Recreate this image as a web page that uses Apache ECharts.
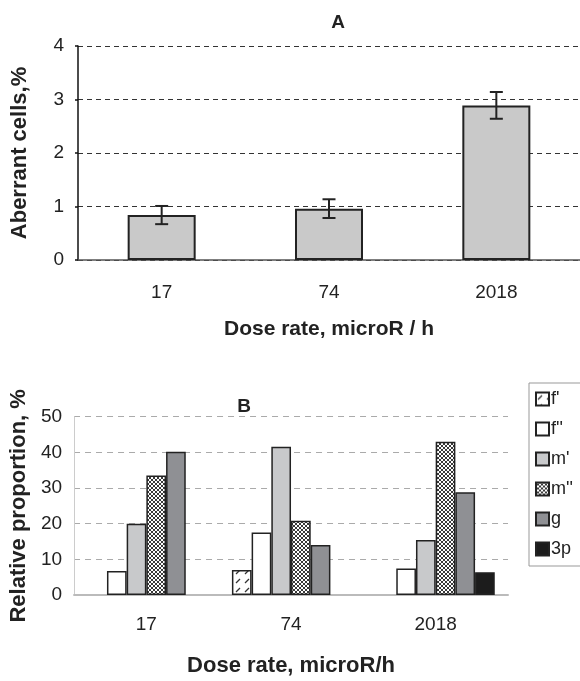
<!DOCTYPE html>
<html>
<head>
<meta charset="utf-8">
<script src="https://cdn.jsdelivr.net/npm/echarts@6/dist/echarts.min.js"></script>
<style>
  html, body { margin: 0; padding: 0; background: #fff; }
  #chart { width: 580px; height: 681px; }
</style>
</head>
<body>
<div id="chart"></div>
<script>
// panel A
const doseA = ['17', '74', '2018'];
const aberrant = [0.84, 0.96, 2.89];
const aberrantErr = [0.17, 0.175, 0.25];

// panel B
const doseB = ['17', '74', '2018'];
const typeNames = ["f'", "f''", "m'", "m''", 'g', '3p'];
const fPrime = [null, 7.0, null];
const fDouble = [6.7, 17.5, 7.4];
const mPrime = [20.0, 41.6, 15.4];
const mDouble = [33.5, 20.8, 43.0];
const gVals = [40.2, 14.0, 28.8];
const p3 = [null, null, 6.4];

const FONT = '"Liberation Sans", Arial, sans-serif';
const INK = '#222';

function hatchPattern() {
  const c = document.createElement('canvas');
  c.width = 9; c.height = 9;
  const ctx = c.getContext('2d');
  ctx.fillStyle = '#fff';
  ctx.fillRect(0, 0, 9, 9);
  ctx.strokeStyle = '#333';
  ctx.lineWidth = 1.2;
  ctx.beginPath();
  ctx.moveTo(2, 7); ctx.lineTo(6, 3);
  ctx.stroke();
  return c;
}

function crossPattern() {
  const c = document.createElement('canvas');
  c.width = 4; c.height = 4;
  const ctx = c.getContext('2d');
  ctx.fillStyle = '#fff';
  ctx.fillRect(0, 0, 4, 4);
  ctx.strokeStyle = '#3a3a3a';
  ctx.lineWidth = 1;
  ctx.beginPath();
  ctx.moveTo(0, 0); ctx.lineTo(4, 4);
  ctx.moveTo(4, 0); ctx.lineTo(0, 4);
  ctx.stroke();
  return c;
}

const fillsB = [
  { image: hatchPattern(), repeat: 'repeat' },
  '#ffffff',
  '#c8c9cb',
  { image: crossPattern(), repeat: 'repeat' },
  '#8f9094',
  '#1c1c1c'
];
const valuesB = [fPrime, fDouble, mPrime, mDouble, gVals, p3];

const chart = echarts.init(document.getElementById('chart'));

const errData = doseA.map((d, i) => [i, aberrant[i] - aberrantErr[i], aberrant[i] + aberrantErr[i]]);

const boldName = (size) => ({ fontFamily: FONT, fontSize: size, fontWeight: 'bold', color: INK });

const option = {
  animation: false,
  textStyle: { fontFamily: FONT, color: INK },
  title: [
    { text: 'A', left: 333, top: 8, textAlign: 'center', textStyle: boldName(19) },
    { text: 'B', left: 239, top: 392, textAlign: 'center', textStyle: boldName(19) }
  ],
  legend: {
    orient: 'vertical',
    left: 529,
    top: 383,
    data: typeNames,
    icon: 'rect',
    itemWidth: 13,
    itemHeight: 13,
    itemGap: 12,
    padding: [7, 40, 8, 6],
    borderColor: '#999',
    borderWidth: 1,
    textStyle: { fontFamily: FONT, fontSize: 18, lineHeight: 18, color: INK, padding: [0, 0, 0, -3] }
  },
  grid: [
    { left: 78, top: 46, width: 508, height: 214 },
    { left: 69, top: 416.7, width: 439, height: 178.3 }
  ],
  xAxis: [
    { gridIndex: 0, type: 'category', data: doseA,
      axisLine: { show: true, lineStyle: { color: '#555', width: 1.5 } },
      axisTick: { show: false },
      axisLabel: { fontFamily: FONT, fontSize: 19, color: INK, margin: 23 },
      name: 'Dose rate, microR / h', nameLocation: 'middle', nameGap: 59,
      nameTextStyle: boldName(21) },
    { gridIndex: 1, type: 'category', data: doseB,
      axisLine: { show: true, lineStyle: { color: '#bbb', width: 2 } },
      axisTick: { show: false },
      axisLabel: { fontFamily: FONT, fontSize: 19, color: INK, margin: 20 },
      name: 'Dose rate, microR/h', nameLocation: 'middle', nameGap: 60,
      nameTextStyle: boldName(22) }
  ],
  yAxis: [
    { gridIndex: 0, type: 'value', min: 0, max: 4, interval: 1,
      axisLine: { show: true, lineStyle: { color: '#111', width: 1.5 } },
      axisTick: { show: true, length: 3, lineStyle: { color: '#111', width: 1.5 } },
      axisLabel: { fontFamily: FONT, fontSize: 19, color: INK, margin: 14 },
      splitLine: { show: true, lineStyle: { color: '#333', type: [5, 4], width: 1 } },
      name: 'Aberrant cells,%', nameLocation: 'middle', nameGap: 47, nameRotate: 90,
      nameTextStyle: boldName(22) },
    { gridIndex: 1, type: 'value', min: 0, max: 50, interval: 10,
      axisLine: { show: true, lineStyle: { color: '#ccc', width: 1 } },
      axisTick: { show: false },
      axisLabel: { fontFamily: FONT, fontSize: 19, color: INK, margin: 12 },
      splitLine: { show: true, lineStyle: { color: '#aaa', type: [6, 5], width: 1 } },
      name: 'Relative proportion, %', nameLocation: 'middle', nameGap: 39, nameRotate: 90,
      nameTextStyle: boldName(22) }
  ],
  series: [
    {
      type: 'bar', xAxisIndex: 0, yAxisIndex: 0,
      data: aberrant, barWidth: 68,
      itemStyle: { color: '#c9c9c9', borderColor: INK, borderWidth: 2 }
    },
    {
      type: 'custom', xAxisIndex: 0, yAxisIndex: 0,
      data: errData,
      z: 5,
      renderItem(params, api) {
        const x = api.value(0);
        const lo = api.coord([x, api.value(1)]);
        const hi = api.coord([x, api.value(2)]);
        const w = 6.5;
        const st = { stroke: INK, lineWidth: 2 };
        return {
          type: 'group',
          children: [
            { type: 'line', shape: { x1: lo[0], y1: lo[1], x2: hi[0], y2: hi[1] }, style: st },
            { type: 'line', shape: { x1: lo[0] - w, y1: lo[1], x2: lo[0] + w, y2: lo[1] }, style: st },
            { type: 'line', shape: { x1: hi[0] - w, y1: hi[1], x2: hi[0] + w, y2: hi[1] }, style: st }
          ]
        };
      }
    }
  ].concat(typeNames.map((name, i) => ({
    name,
    type: 'bar', xAxisIndex: 1, yAxisIndex: 1,
    data: valuesB[i],
    barWidth: 19.7,
    barGap: '0%',
    itemStyle: { color: fillsB[i], borderColor: INK, borderWidth: 1.5 }
  })))
};

chart.setOption(option);
</script>
</body>
</html>
